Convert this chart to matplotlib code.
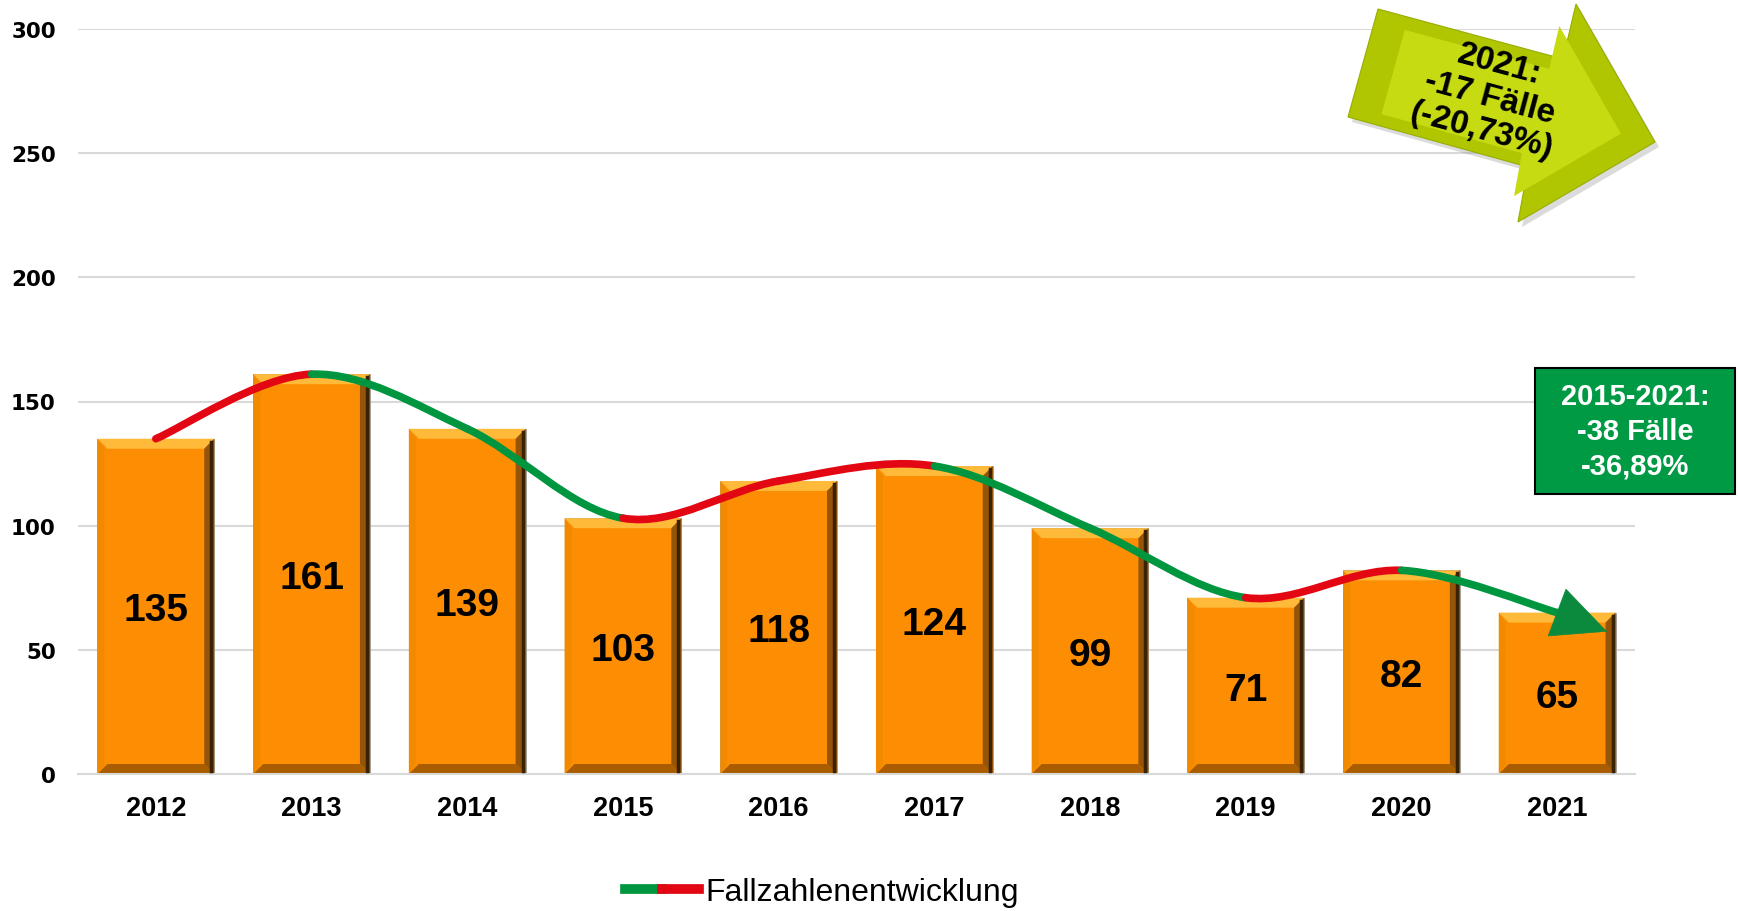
import numpy as np
import matplotlib
matplotlib.use("Agg")
import matplotlib.pyplot as plt
from matplotlib.path import Path
from matplotlib.patches import PathPatch, Polygon, Rectangle
from matplotlib.lines import Line2D
from matplotlib.legend_handler import HandlerTuple
from matplotlib.transforms import offset_copy

years = ["2012", "2013", "2014", "2015", "2016", "2017", "2018", "2019", "2020", "2021"]
cases = [135, 161, 139, 103, 118, 124, 99, 71, 82, 65]
y_ticks = [0, 50, 100, 150, 200, 250, 300]

box_text = "2015-2021:\n-38 Fälle\n-36,89%"
arrow_text = "2021:\n-17 Fälle\n(-20,73%)"
legend_label = "Fallzahlenentwicklung"

ORANGE = "#FD8D03"
GREEN = "#009640"
RED = "#E30613"
GRID = "#D9D9D9"

plt.rcParams["font.family"] = ["Liberation Sans", "DejaVu Sans"]

W, H = 1738, 912
fig = plt.figure(figsize=(W / 100, H / 100), dpi=100)
ax_l, ax_r, ax_b, ax_t = 78 / W, 1635 / W, 1 - 775 / H, 1 - 30 / H
ax = fig.add_axes([ax_l, ax_b, ax_r - ax_l, ax_t - ax_b])

x = np.arange(len(years))
ax.set_xlim(-0.5, len(years) - 0.5)
ax.set_ylim(0, 300)
ax.set_yticks(y_ticks)
ax.grid(axis="y", color=GRID, lw=1.5, zorder=0)
ax.set_axisbelow(True)
for s in ["top", "right", "left"]:
    ax.spines[s].set_visible(False)
ax.spines["bottom"].set_color(GRID)
ax.spines["bottom"].set_linewidth(1.5)

ax.set_xticks(x)
ax.set_xticklabels(years, fontsize=19.5, fontweight="bold")
ax.tick_params(axis="x", length=0, pad=15)
ax.tick_params(axis="y", length=0, pad=16)
for lab in ax.get_yticklabels():
    lab.set_fontfamily("DejaVu Sans")
    lab.set_fontweight("bold")
    lab.set_fontsize(15.5)

bars = ax.bar(x, cases, width=0.75, color=ORANGE, edgecolor="#9A9A9A", lw=0.6, zorder=2)

# bevel effect on the bars (sizes in pixels converted to data units)
px_x = (ax_r - ax_l) * W / (len(years))
px_y = (ax_t - ax_b) * H / 300
bx, by = 10 / px_x, 10 / px_y
for rect in bars:
    x0 = rect.get_x()
    x1 = x0 + rect.get_width()
    h = rect.get_height()
    faces = [
        ([(x0, h), (x1, h), (x1 - bx, h - by), (x0 + bx, h - by)], "#FFBA3A"),
        ([(x0, 0), (x1, 0), (x1 - bx, by), (x0 + bx, by)], "#A95D00"),
        ([(x0, 0), (x0, h), (x0 + bx * 0.7, h - by), (x0 + bx * 0.7, by)], "#F28A00"),
        ([(x1, 0), (x1, h), (x1 - bx, h - by), (x1 - bx, by)], "#94540A"),
    ]
    for pts, c in faces:
        ax.add_patch(Polygon(pts, closed=True, fc=c, ec="none", zorder=2.5))
    ax.plot([x1 - bx * 0.3, x1 - bx * 0.3], [by * 0.3, h - by * 0.3], color="#3A2204", lw=2.5, zorder=2.6)
    ax.text(rect.get_x() + rect.get_width() / 2, h / 2, str(h), ha="center", va="center_baseline",
            fontsize=28, fontweight="bold", color="black", zorder=3)

# smooth trend line (Catmull-Rom as cubic Bezier), red rising, green falling
pts = np.column_stack([x, cases]).astype(float)
ext = np.vstack([pts[0], pts, pts[-1]])
for i in range(len(pts) - 1):
    p0, p1, p2, p3 = ext[i], ext[i + 1], ext[i + 2], ext[i + 3]
    c1 = p1 + (p2 - p0) / 6
    c2 = p2 - (p3 - p1) / 6
    col = RED if cases[i + 1] > cases[i] else GREEN
    path = Path([p1, c1, c2, p2], [Path.MOVETO, Path.CURVE4, Path.CURVE4, Path.CURVE4])
    ax.add_patch(PathPatch(path, fill=False, ec=col, lw=5.5, capstyle="round", zorder=4))

tip_tr = offset_copy(ax.transData, fig=fig, x=50, y=-19, units="dots")
ax.annotate("", xy=(x[-1], cases[-1]), xycoords=tip_tr, xytext=(x[-1], cases[-1]), textcoords="data",
            arrowprops=dict(arrowstyle="-|>,head_length=3.8,head_width=1.8", color="#0B8A3E",
                            lw=0.5, shrinkA=0, shrinkB=0, mutation_scale=10), zorder=5)

# big yellow-green arrow top right
arrow_px = [(1378, 10), (1563, 60), (1576, 5), (1655, 143), (1518, 223), (1528, 168), (1348, 118)]
to_fig = lambda p: (p[0] / W, 1 - p[1] / H)
shadow = [(p[0] + 4, p[1] + 5) for p in arrow_px]
fig.add_artist(Polygon([to_fig(p) for p in shadow], closed=True, fc="#888888", alpha=0.3,
                       ec="none", transform=fig.transFigure, zorder=5))
fig.add_artist(Polygon([to_fig(p) for p in arrow_px], closed=True, fc="#B0C600", ec="#98AD00",
                       lw=0.8, transform=fig.transFigure, zorder=5))
cx, cy = 1500, 105
inner = [(cx + (p[0] - cx) * 0.78, cy + (p[1] - cy) * 0.78) for p in arrow_px]
fig.add_artist(Polygon([to_fig(p) for p in inner], closed=True, fc="#C6DB12", ec="none",
                       transform=fig.transFigure, zorder=5))
fig.text(1490 / W, 1 - 98 / H, arrow_text, ha="center", va="center", rotation=-15,
         fontsize=24, fontweight="bold", linespacing=1.15, zorder=6)

# green summary box
fig.add_artist(Rectangle((1535 / W, 1 - 495 / H), 200 / W, 126 / H, fc="#009A44", ec="black",
                         lw=1.5, transform=fig.transFigure, zorder=5))
fig.text(1635 / W, 1 - 432 / H, box_text, ha="center", va="center", color="white",
         fontsize=21, fontweight="bold", linespacing=1.3, zorder=6)

# legend with two-coloured line
h_green = Line2D([], [], color=GREEN, lw=7)
h_red = Line2D([], [], color=RED, lw=7)
fig.legend(handles=[(h_green, h_red)], labels=[legend_label],
           handler_map={tuple: HandlerTuple(ndivide=None, pad=0)},
           loc="center", bbox_to_anchor=(822 / W, 1 - 893 / H), frameon=False,
           fontsize=23, handlelength=2.3, handletextpad=0.2)

fig.savefig("out.png", dpi=100, facecolor="white")
